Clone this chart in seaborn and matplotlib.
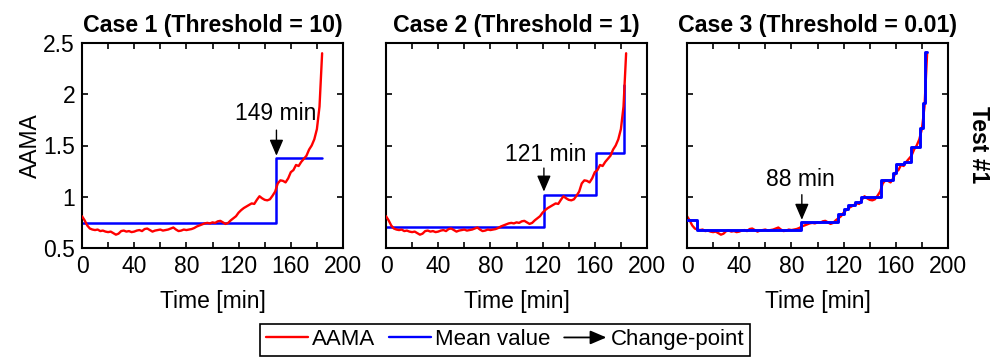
import numpy as np
import pandas as pd
import matplotlib
matplotlib.use("Agg")
import matplotlib.pyplot as plt
import seaborn as sns
from matplotlib.lines import Line2D
from matplotlib.patches import FancyArrowPatch
from matplotlib.legend_handler import HandlerBase
from matplotlib.ticker import MultipleLocator

# AAMA indicator, sampled every 2 minutes (Test #1)
time_min = list(range(0, 186, 2))
aama = [0.81, 0.77, 0.72, 0.69, 0.68, 0.675, 0.68, 0.665, 0.67, 0.66,
        0.655, 0.66, 0.645, 0.63, 0.64, 0.665, 0.67, 0.66, 0.665, 0.655,
        0.66, 0.67, 0.675, 0.665, 0.685, 0.69, 0.675, 0.66, 0.67, 0.675,
        0.68, 0.67, 0.675, 0.68, 0.69, 0.70, 0.68, 0.665, 0.67, 0.68,
        0.675, 0.68, 0.685, 0.695, 0.71, 0.72, 0.73, 0.74, 0.745, 0.74,
        0.75, 0.745, 0.76, 0.765, 0.75, 0.735, 0.745, 0.77, 0.79, 0.81,
        0.845, 0.87, 0.89, 0.905, 0.92, 0.935, 0.93, 0.97, 1.005, 0.985,
        0.97, 0.965, 0.975, 1.01, 1.05, 1.13, 1.16, 1.155, 1.14, 1.18,
        1.24, 1.26, 1.31, 1.30, 1.34, 1.37, 1.40, 1.46, 1.50, 1.56,
        1.66, 1.88, 2.40]

# Piecewise-constant mean values between detected change-points
case1_bounds = [0, 149, 184]
case1_levels = [0.745, 1.375]
case2_bounds = [0, 121, 161, 182, 182.4]
case2_levels = [0.708, 1.018, 1.43, 2.09]
case3_bounds = [0, 7.7, 87.5, 116, 120, 123, 129, 133, 149, 158, 160.5,
                166, 172, 178.5, 180.8, 182.6, 183.8]
case3_levels = [0.773, 0.68, 0.757, 0.83, 0.885, 0.92, 0.95, 1.0, 1.163,
                1.23, 1.32, 1.34, 1.49, 1.67, 1.91, 2.415]

titles = ["Case 1 (Threshold = 10)", "Case 2 (Threshold = 1)",
          "Case 3 (Threshold = 0.01)"]
first_cp = [149, 121, 88]
cp_labels = ["149 min", "121 min", "88 min"]
arrow_tip = [1.40, 1.05, 0.775]
arrow_tail = [1.65, 1.28, 1.02]
label_y = [1.81, 1.41, 1.165]
label_x = [148.5, 122, 87]

sns.set_theme(style="ticks")
plt.rcParams["font.family"] = ["Liberation Sans", "DejaVu Sans"]
plt.rcParams["font.size"] = 16
plt.rcParams["axes.linewidth"] = 1.5
for key in ["text.color", "axes.labelcolor", "xtick.color", "ytick.color",
            "xtick.labelcolor", "ytick.labelcolor", "axes.edgecolor"]:
    plt.rcParams[key] = "black"

fig = plt.figure(figsize=(9.97, 3.58), dpi=100)
lefts = [82, 386, 687]
axes = [fig.add_axes([l / 997, 1 - 248 / 358, 261 / 997, 205 / 358]) for l in lefts]

red = "#ff0000"
blue = "#0000ff"
df = pd.DataFrame({"t": time_min, "aama": aama})
cases = [(case1_bounds, case1_levels), (case2_bounds, case2_levels),
         (case3_bounds, case3_levels)]

for i, ax in enumerate(axes):
    bounds, levels = cases[i]
    steps = pd.DataFrame({"t": bounds, "m": list(levels) + [levels[-1]]})
    red_z, blue_z = (3, 2) if i < 2 else (2, 3)
    sns.lineplot(data=df, x="t", y="aama", ax=ax, color=red, lw=1.7,
                 estimator=None, zorder=red_z)
    sns.lineplot(data=steps, x="t", y="m", ax=ax, color=blue,
                 lw=1.8 if i < 2 else 2.1,
                 estimator=None, drawstyle="steps-post", zorder=blue_z)
    ax.annotate("", xy=(first_cp[i], arrow_tip[i]),
                xytext=(first_cp[i], arrow_tail[i]),
                arrowprops=dict(arrowstyle="-|>,head_length=0.7,head_width=0.3",
                                color="black", lw=1.0, mutation_scale=14,
                                shrinkA=0, shrinkB=0), zorder=5)
    ax.text(label_x[i], label_y[i], cp_labels[i], ha="center", va="center",
            fontsize=16.5, color="black")
    ax.set_xlim(0, 200)
    ax.set_ylim(0.5, 2.5)
    ax.xaxis.set_major_locator(MultipleLocator(40))
    ax.xaxis.set_minor_locator(MultipleLocator(20))
    ax.tick_params(axis="both", which="both", direction="in", top=True,
                   right=True, colors="black", labelsize=16.5, width=1.2)
    ax.tick_params(which="major", length=4.5, pad=5)
    ax.tick_params(which="minor", length=4.5)
    ax.set_yticks([0.5, 1, 1.5, 2, 2.5])
    ax.set_yticklabels(["0.5", "1", "1.5", "2", "2.5"] if i == 0 else [])
    ax.set_xlabel("Time [min]", fontsize=16.5, labelpad=9, color="black")
    ax.set_ylabel("AAMA" if i == 0 else "", fontsize=16.5, labelpad=1,
                  color="black")
    ax.set_title(titles[i], fontsize=16.7, fontweight="bold", pad=8,
                 color="black")
    for s in ax.spines.values():
        s.set_color("black")
        s.set_linewidth(1.5)

fig.text(978 / 997, 1 - 145 / 358, "Test #1", rotation=270, ha="center",
         va="center", fontsize=16.5, fontweight="bold", color="black")


class ArrowHandler(HandlerBase):
    def create_artists(self, legend, orig_handle, xdescent, ydescent, width,
                       height, fontsize, trans):
        y = 0.5 * height - ydescent
        arr = FancyArrowPatch((-xdescent, y), (width - xdescent, y),
                              arrowstyle="-|>,head_length=0.7,head_width=0.3",
                              mutation_scale=14, color="black", lw=1.3,
                              shrinkA=0, shrinkB=0)
        arr.set_transform(trans)
        return [arr]


h_red = Line2D([], [], color=red, lw=1.7)
h_blue = Line2D([], [], color=blue, lw=1.7)
h_arrow = Line2D([], [], color="black")
leg = fig.legend([h_red, h_blue, h_arrow], ["AAMA", "Mean value", "Change-point"],
                 loc="lower center", bbox_to_anchor=(505 / 997, 0.0), ncol=3,
                 frameon=True, fancybox=False, framealpha=1, edgecolor="black",
                 fontsize=16, borderpad=0.25, handlelength=1.9,
                 handletextpad=0.2, columnspacing=0.6, borderaxespad=0.1,
                 handler_map={h_arrow: ArrowHandler()})
leg.get_frame().set_linewidth(1.2)
for txt in leg.get_texts():
    txt.set_color("black")

fig.savefig("out.png", dpi=100)
